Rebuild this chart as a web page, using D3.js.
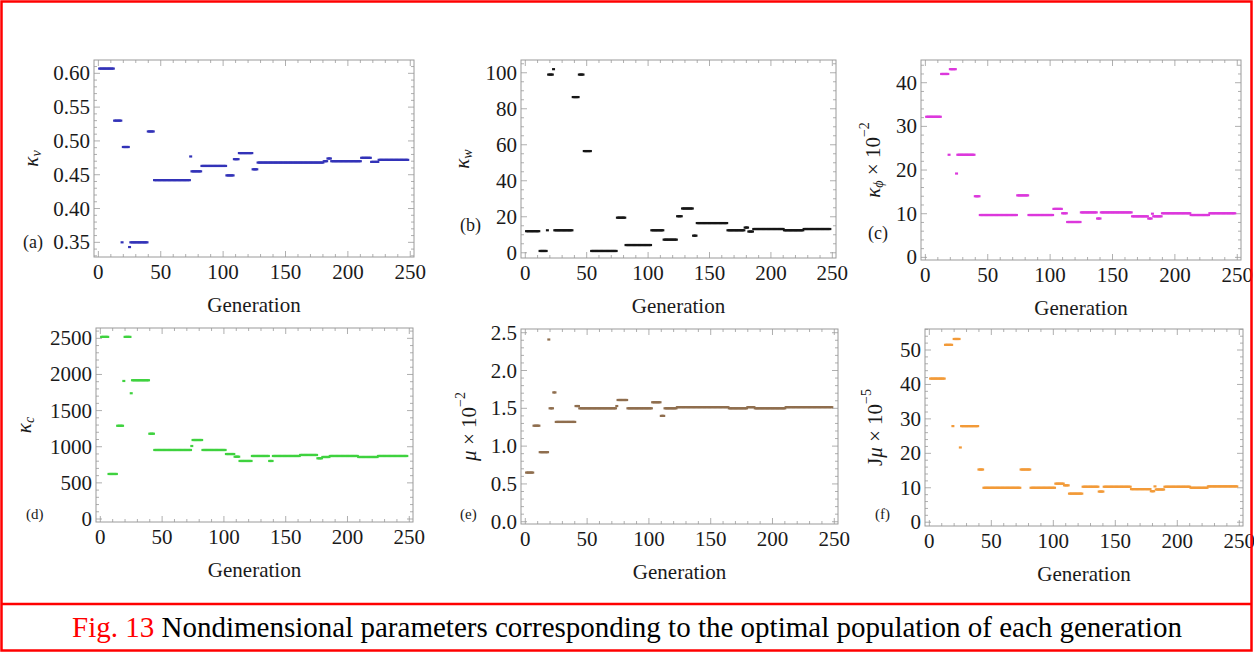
<!DOCTYPE html>
<html><head><meta charset="utf-8">
<script src="https://cdn.jsdelivr.net/npm/d3@7"></script>
<style>
body{margin:0;background:#fff}
svg{display:block}
svg text{font-family:"Liberation Serif","DejaVu Serif","Times New Roman",serif}
</style>
</head><body>
<script>
// ---------------- DATA (runs of generations with constant value) ----------------
const generationTicks = [0, 50, 100, 150, 200, 250];

// (a) kappa_v
const startA = [1,13,19,20,25,26,40,45,74,75,83,103,109,113,124,128,181,184,187,211,219,225];
const endA   = [12,18,19,24,25,39,44,73,74,82,102,108,112,123,127,180,183,186,210,218,224,248];
const kappaV = [0.607,0.530,0.350,0.491,0.343,0.350,0.514,0.442,0.477,0.455,0.463,0.449,0.473,0.482,0.458,0.468,0.470,0.474,0.470,0.475,0.469,0.472];
const ticksA = [0.35,0.40,0.45,0.50,0.55,0.60];

// (b) kappa_w
const startB = [1,12,18,19,23,24,39,44,48,54,75,82,103,113,124,128,137,140,165,179,182,186,211,227];
const endB   = [11,17,18,22,23,38,43,47,53,74,81,102,112,123,127,136,139,164,178,181,185,210,226,248];
const kappaW = [12,1,12.5,99,102,12.5,86.5,99,56.5,1,19.5,4.3,12.5,7.3,20.3,24.6,9.5,16.5,12.5,14,11.8,13.2,12.5,13.2];
const ticksB = [0,20,40,60,80,100];

// (c) kappa_phi x 10^-2
const startC = [1,13,19,20,25,26,40,44,74,83,103,110,114,125,138,141,166,179,182,183,190,213,228];
const endC   = [12,18,19,24,25,39,43,73,82,102,109,113,124,137,140,165,178,181,182,189,212,227,248];
const kappaPhi = [32.2,42,23.5,43.1,19.2,23.5,14,9.7,14.2,9.7,11.1,10.1,8.1,10.3,8.9,10.3,9.4,8.9,10,9.4,10.1,9.7,10.1];
const ticksC = [0,10,20,30,40];

// (d) kappa_c
const startD = [1,7,14,19,20,25,26,40,44,74,75,83,102,109,113,123,137,140,162,176,180,186,209,225];
const endD   = [6,13,18,19,24,25,39,43,73,74,82,101,108,112,122,136,139,161,175,179,185,208,224,248];
const kappaC = [2520,623,1290,1910,2520,1740,1920,1180,955,1010,1093,955,899,862,803,872,803,872,886,840,858,872,858,872];
const ticksD = [0,500,1000,1500,2000,2500];

// (e) mu x 10^-2
const startE = [1,7,12,19,20,23,25,41,44,74,75,83,103,110,113,123,165,180,186,211];
const endE   = [6,11,18,19,22,24,40,43,73,74,82,102,109,112,122,164,179,185,210,248];
const mu = [0.65,1.27,0.92,2.41,1.50,1.71,1.32,1.53,1.50,1.53,1.61,1.50,1.58,1.40,1.50,1.515,1.50,1.515,1.50,1.515];
const ticksE = [0.0,0.5,1.0,1.5,2.0,2.5];

// (f) J mu x 10^-5
const startF = [1,13,19,20,25,26,40,44,74,82,102,109,113,124,137,141,163,179,182,183,190,211,225];
const endF   = [12,18,19,24,25,39,43,73,81,101,108,112,123,136,140,162,178,181,182,189,210,224,248];
const jMu = [41.7,51.5,27.9,53.2,21.7,27.9,15.3,10,15.3,10,11.2,10.7,8.3,10.3,8.9,10.3,9.6,9.0,10.4,9.5,10.3,10,10.4];
const ticksF = [0,10,20,30,40,50];

const captionRed = "Fig. 13";
const captionBlack = " Nondimensional parameters corresponding to the optimal population of each generation";

// ---------------- LAYOUT ----------------
const W = 1254, H = 652;
const svg = d3.select("body").append("svg").attr("width", W).attr("height", H);

function expand(starts, ends, vals) {
  const pts = [];
  starts.forEach((s, i) => { for (let g = s; g <= ends[i]; g++) pts.push({g, v: vals[i]}); });
  return pts;
}

const panels = [
  {letter:"(a)", s:startA, e:endA, v:kappaV, ticks:ticksA, minor:0.01, fmt:d3.format(".2f"),
   box:[94,60,414,257], yd:[0.3283,0.6197], color:"#3333b8",
   ylab:[{t:"κ",i:1},{t:"ν",i:1,sub:1}], ylx:33, lx:23, ly:248, lfs:18},
  {letter:"(b)", s:startB, e:endB, v:kappaW, ticks:ticksB, minor:5, fmt:d3.format("d"),
   box:[521,60,836,258], yd:[-2.9,107.1], color:"#161616",
   ylab:[{t:"κ",i:1},{t:"w",i:1,sub:1}], ylx:464, lx:460, ly:231, lfs:18},
  {letter:"(c)", s:startC, e:endC, v:kappaPhi, ticks:ticksC, minor:2, fmt:d3.format("d"),
   box:[921,60,1241,260], yd:[-0.6,45.2], color:"#dc38dc",
   ylab:[{t:"κ",i:1},{t:"ϕ",i:1,sub:1},{t:" × 10"},{t:"−2",sup:1}], ylx:875, lx:868, ly:239, lfs:18},
  {letter:"(d)", s:startD, e:endD, v:kappaC, ticks:ticksD, minor:100, fmt:d3.format("d"),
   box:[96,328,413,522], yd:[-41.5,2643], color:"#3fd23f",
   ylab:[{t:"κ",i:1},{t:"c",i:1,sub:1}], ylx:26, lx:26, ly:519, lfs:15},
  {letter:"(e)", s:startE, e:endE, v:mu, ticks:ticksE, minor:0.1, fmt:d3.format(".1f"),
   box:[521,329,838,524], yd:[-0.03,2.549], color:"#8f6e4e",
   ylab:[{t:"μ",i:1},{t:" × 10"},{t:"−2",sup:1}], ylx:471, lx:460, ly:519, lfs:15},
  {letter:"(f)", s:startF, e:endF, v:jMu, ticks:ticksF, minor:2, fmt:d3.format("d"),
   box:[925,329,1243,526], yd:[-1.1,56.1], color:"#f29a38",
   ylab:[{t:"J"},{t:"μ",i:1},{t:" × 10"},{t:"−5",sup:1}], ylx:877, lx:875, ly:519, lfs:15}
];

const frameColor = "#9a9a9a";

panels.forEach(p => {
  const [x0, y0, x1, y1] = p.box;
  const x = d3.scaleLinear().domain([-3.5, 253]).range([x0, x1]);
  const y = d3.scaleLinear().domain(p.yd).range([y1, y0]);
  const g = svg.append("g");

  const xMinor = d3.range(0, 251, 10);
  const yMinorAll = d3.range(Math.ceil(p.yd[0] / p.minor), Math.floor(p.yd[1] / p.minor) + 1).map(k => +(k * p.minor).toFixed(6));
  const isMajorY = v => p.ticks.some(t => Math.abs(t - v) < 1e-6);
  const isMajorX = v => generationTicks.includes(v);
  xMinor.forEach(t => {
    const L = isMajorX(t) ? 6 : 3;
    g.append("line").attr("x1", x(t)).attr("x2", x(t)).attr("y1", y1).attr("y2", y1 - L).attr("stroke", frameColor).attr("stroke-width", 0.8);
    g.append("line").attr("x1", x(t)).attr("x2", x(t)).attr("y1", y0).attr("y2", y0 + L).attr("stroke", frameColor).attr("stroke-width", 0.8);
  });
  yMinorAll.forEach(t => {
    const L = isMajorY(t) ? 6 : 3;
    g.append("line").attr("y1", y(t)).attr("y2", y(t)).attr("x1", x0).attr("x2", x0 + L).attr("stroke", frameColor).attr("stroke-width", 0.8);
    g.append("line").attr("y1", y(t)).attr("y2", y(t)).attr("x1", x1).attr("x2", x1 - L).attr("stroke", frameColor).attr("stroke-width", 0.8);
  });
  g.append("rect").attr("x", x0).attr("y", y0).attr("width", x1 - x0).attr("height", y1 - y0)
    .attr("fill", "none").attr("stroke", frameColor).attr("stroke-width", 1);

  g.selectAll(".xl").data(generationTicks).enter().append("text")
    .attr("x", d => x(d)).attr("y", y1 + 22).attr("text-anchor", "middle")
    .attr("font-size", 21).attr("fill", "#1a1a1a").text(d => d);
  g.selectAll(".yl").data(p.ticks).enter().append("text")
    .attr("x", x0 - 4).attr("y", d => y(d) + 7).attr("text-anchor", "end")
    .attr("font-size", 21).attr("fill", "#1a1a1a").text(d => p.fmt(d));

  // points: one small mark per generation
  g.selectAll(".pt").data(expand(p.s, p.e, p.v)).enter().append("rect")
    .attr("x", d => x(d.g) - 1.5).attr("y", d => y(d.v) - 1.1)
    .attr("width", 3).attr("height", 2.2).attr("fill", p.color);

  g.append("text").attr("x", (x0 + x1) / 2).attr("y", y1 + 55).attr("text-anchor", "middle")
    .attr("font-size", 21).attr("fill", "#1a1a1a").text("Generation");

  const yl = g.append("text").attr("transform", `translate(${p.ylx},${(y0 + y1) / 2}) rotate(-90)`)
    .attr("text-anchor", "middle").attr("dominant-baseline", "middle")
    .attr("font-size", 21).attr("fill", "#1a1a1a");
  let shift = 0;
  p.ylab.forEach(part => {
    const ts = yl.append("tspan").text(part.t);
    if (part.i) ts.attr("font-style", "italic");
    let target = 0;
    if (part.sub) { ts.attr("font-size", 14); target = 5; }
    if (part.sup) { ts.attr("font-size", 14); target = -9; }
    ts.attr("dy", target - shift);
    shift = target;
  });

  g.append("text").attr("x", p.lx).attr("y", p.ly)
    .attr("font-size", p.lfs).attr("fill", "#1a1a1a").text(p.letter);
});

svg.append("rect").attr("x", 1.5).attr("y", 1.5).attr("width", W - 4).attr("height", H - 3)
  .attr("fill", "none").attr("stroke", "#ff0000").attr("stroke-width", 2.5);
svg.append("line").attr("x1", 1).attr("x2", W - 2).attr("y1", 604).attr("y2", 604)
  .attr("stroke", "#ff0000").attr("stroke-width", 2.5);
const cap = svg.append("text").attr("x", W / 2).attr("y", 637).attr("text-anchor", "middle")
  .attr("font-size", 29);
cap.append("tspan").attr("fill", "#ff0000").text(captionRed);
cap.append("tspan").attr("fill", "#000").text(captionBlack);
</script>
</body></html>
